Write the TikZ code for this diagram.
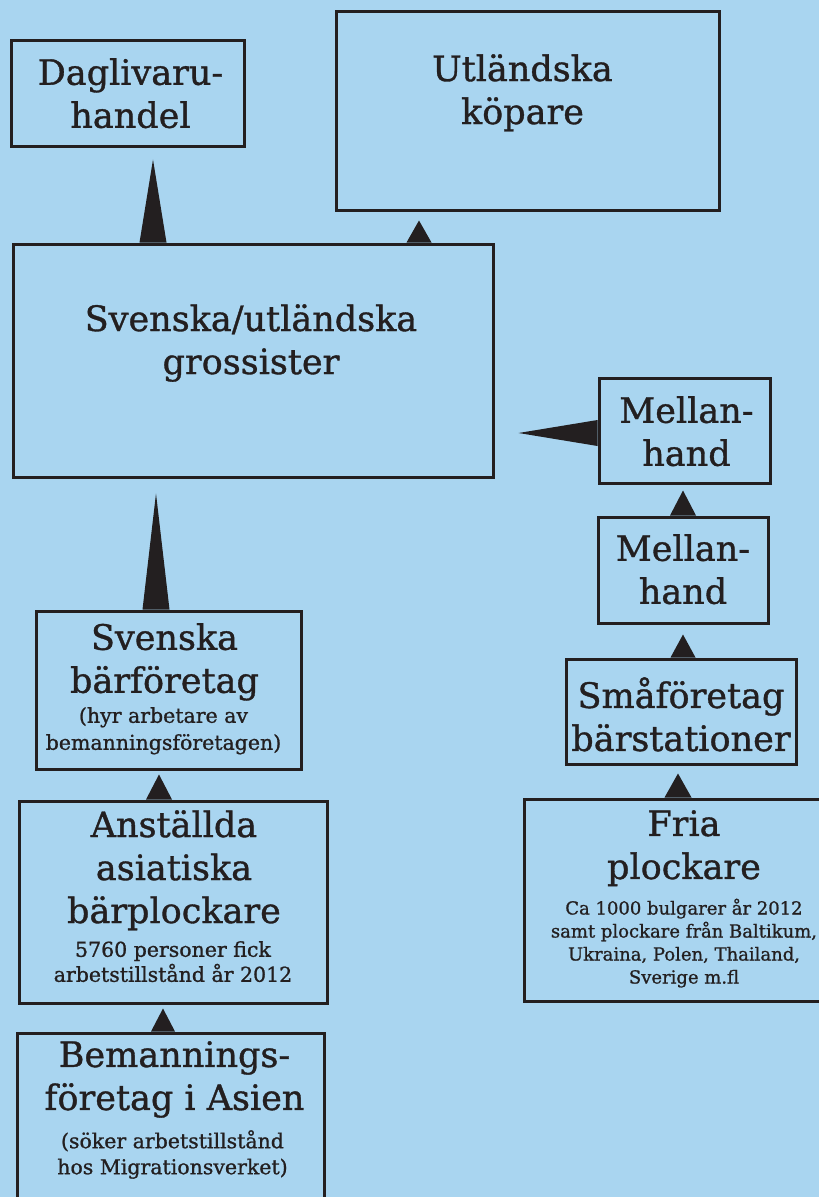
\documentclass[tikz,border=0pt]{standalone}
\usepackage{fontspec}
\setmainfont{DejaVu Serif}[FakeBold=1]
\usetikzlibrary{positioning,calc}
\definecolor{sky}{RGB}{169,213,240}
\definecolor{ink}{RGB}{35,31,32}
\tikzset{
  box/.style={draw=ink, line width=3pt, rectangle, inner sep=0pt},
  title/.style={text=ink, font=\fontsize{35}{43}\selectfont, align=center, inner sep=0pt, anchor=north},
  note/.style={text=ink, font=\fontsize{20.5}{26}\selectfont, align=center, inner sep=0pt, anchor=north},
  spike/.style={fill=ink},
}
\newcommand\spikeup[3]{\fill[spike] ($(#1)+(-#3,0)$) -- (#2) -- ($(#1)+(#3,0)$) -- cycle;}
\newcommand\spikeleft[3]{\fill[spike] ($(#1)+(0,-#3)$) -- (#2) -- ($(#1)+(0,#3)$) -- cycle;}
\begin{document}
\begin{tikzpicture}[x=1pt,y=-1pt]
  \clip (0,0) rectangle (819,1197);
  \fill[sky] (0,0) rectangle (819,1197);
  % boxes
  \node[box, minimum width=233pt, minimum height=106pt] (dag) at (127.5,93) {};
  \node[box, minimum width=383pt, minimum height=199pt] (utl) at (527.5,110.5) {};
  \node[box, minimum width=480pt, minimum height=233pt] (gross) at (253,360.5) {};
  \node[box, minimum width=171pt, minimum height=105pt] (mel1) at (684.5,430.5) {};
  \node[box, minimum width=170pt, minimum height=106pt] (mel2) at (683,570) {};
  \node[box, minimum width=230pt, minimum height=105pt] (sma) at (681,711.5) {};
  \node[box, minimum width=316pt, minimum height=202pt] (fria) at (682,900) {};
  \node[box, minimum width=265pt, minimum height=158pt] (sve) at (168.5,690) {};
  \node[box, minimum width=308pt, minimum height=202pt] (anst) at (173,902) {};
  \node[box, minimum width=307pt, minimum height=182pt] (bem) at (170.5,1124) {};
  % texts
  \node[title] (dagtext) at ([xshift=3pt,yshift=-19.5pt]dag.north) {Daglivaru-\\handel};
  \node[title] (utltext) at ([xshift=-5pt,yshift=-44.5pt]utl.north) {Utländska\\köpare};
  \node[title] (grosstext) at ([xshift=-2pt,yshift=-61.5pt]gross.north) {Svenska/utländska\\grossister};
  \node[title] (mel1text) at ([xshift=2pt,yshift=-19.5pt]mel1.north) {Mellan-\\hand};
  \node[title] (mel2text) at ([yshift=-18.5pt]mel2.north) {Mellan-\\hand};
  \node[title] (smatext) at ([yshift=-19.5pt]sma.north) {Småföretag\\bärstationer};
  \node[title] (friatext) at ([xshift=2pt,yshift=-12.5pt]fria.north) {Fria\\plockare};
  \node[note, font=\fontsize{18}{23}\selectfont] (frianote) at ([xshift=2pt,yshift=-101pt]fria.north)
    {Ca 1000 bulgarer år 2012\\samt plockare från Baltikum,\\Ukraina, Polen, Thailand,\\Sverige m.fl};
  \node[title] (svetext) at ([xshift=-4pt,yshift=-13.5pt]sve.north) {Svenska\\bärföretag};
  \node[note, font=\fontsize{20.5}{27}\selectfont] (svenote) at ([xshift=-5pt,yshift=-97.5pt]sve.north) {(hyr arbetare av\\bemanningsföretagen)};
  \node[title] (ansttext) at ([xshift=1pt,yshift=-10.5pt]anst.north) {Anställda\\asiatiska\\bärplockare};
  \node[note, font=\fontsize{20.5}{25}\selectfont] (anstnote) at ([yshift=-141.5pt]anst.north) {5760 personer fick\\arbetstillstånd år 2012};
  \node[title] (bemtext) at ([xshift=4pt,yshift=-9.5pt]bem.north) {Bemannings-\\företag i Asien};
  \node[note] (bemnote) at ([xshift=2pt,yshift=-98.5pt]bem.north) {(söker arbetstillstånd\\hos Migrationsverket)};
  % spikes
  \coordinate (tipdag) at ([xshift=25.5pt,yshift=-12pt]dag.south);
  \coordinate (tiputl) at ([xshift=-108.5pt,yshift=-9pt]utl.south);
  \coordinate (tipgross) at ([xshift=-97pt,yshift=-15pt]gross.south);
  \coordinate (tipside) at ([xshift=24pt,yshift=-72.5pt]gross.east);
  \coordinate (tipmel1) at ([xshift=-1.5pt,yshift=-6pt]mel1.south);
  \coordinate (tipmel2) at ([yshift=-10pt]mel2.south);
  \coordinate (tipsma) at ([xshift=-3pt,yshift=-8pt]sma.south);
  \coordinate (tipsve) at ([xshift=-9.5pt,yshift=-4pt]sve.south);
  \coordinate (tipanst) at ([xshift=-10pt,yshift=-4pt]anst.south);
  \spikeup{gross.north -| tipdag}{tipdag}{13.5}
  \spikeup{gross.north -| tiputl}{tiputl}{12.5}
  \spikeup{sve.north -| tipgross}{tipgross}{13.5}
  \spikeleft{mel1.west |- tipside}{tipside}{13}
  \spikeup{mel2.north -| tipmel1}{tipmel1}{13}
  \spikeup{sma.north -| tipmel2}{tipmel2}{12.5}
  \spikeup{fria.north -| tipsma}{tipsma}{13.5}
  \spikeup{anst.north -| tipsve}{tipsve}{13}
  \spikeup{bem.north -| tipanst}{tipanst}{12}
\end{tikzpicture}
\end{document}
